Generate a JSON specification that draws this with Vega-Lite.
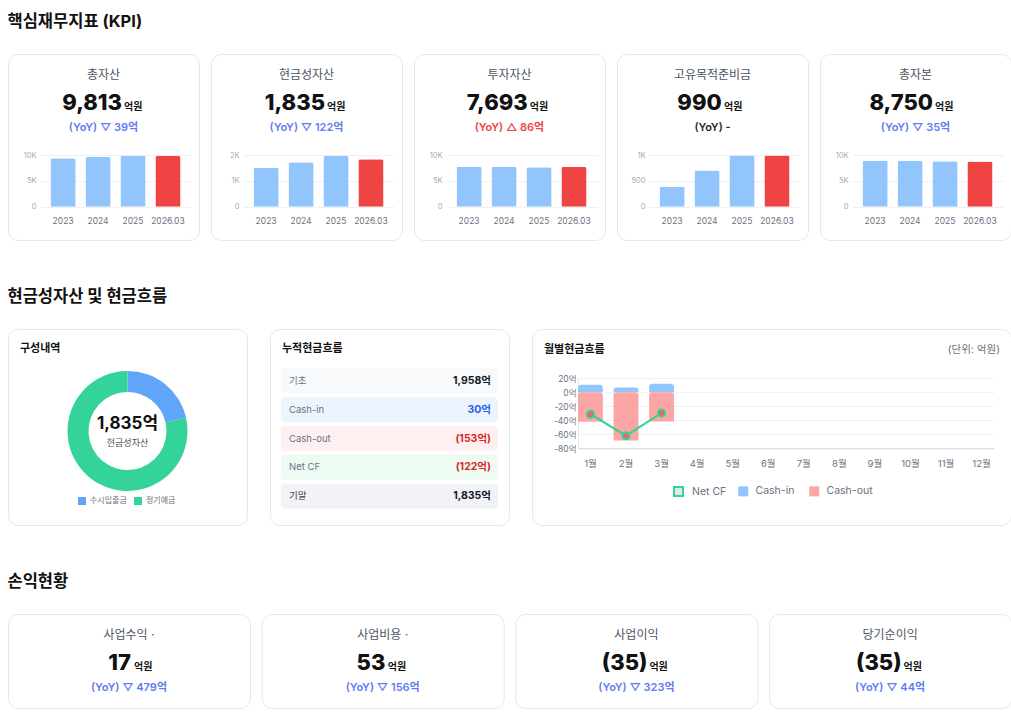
{
  "$schema": "https://vega.github.io/schema/vega-lite/v6.json",
  "background": "#ffffff",
  "padding": {"left": 7, "top": 13, "right": 0, "bottom": 0},
  "config": {
    "font": "Inter, Noto Sans CJK KR",
    "view": {"stroke": "#e5e7eb", "strokeWidth": 1, "cornerRadius": 10, "fill": "#ffffff"},
    "axis": {"domain": false, "ticks": false, "tickSize": 0, "title": null, "gridColor": "#eef0f3", "gridWidth": 1, "labelOverlap": false, "labelFont": "Inter, Noto Sans CJK KR"},
    "axisX": {"labelAngle": 0},
    "title": {"anchor": "start", "fontSize": 16.5, "fontWeight": "bold", "color": "#111111", "offset": 23.5, "baseline": "top", "font": "Inter, Noto Sans CJK KR"},
    "legend": {"labelFont": "Inter, Noto Sans CJK KR"}
  },
  "datasets": {
    "kpiBars": [
      {"card": "총자산", "period": "2023", "value": 9362, "kind": "past"},
      {"card": "총자산", "period": "2024", "value": 9613, "kind": "past"},
      {"card": "총자산", "period": "2025", "value": 9852, "kind": "past"},
      {"card": "총자산", "period": "2026.03", "value": 9813, "kind": "current"},
      {"card": "현금성자산", "period": "2023", "value": 1509, "kind": "past"},
      {"card": "현금성자산", "period": "2024", "value": 1717, "kind": "past"},
      {"card": "현금성자산", "period": "2025", "value": 1957, "kind": "past"},
      {"card": "현금성자산", "period": "2026.03", "value": 1835, "kind": "current"},
      {"card": "투자자산", "period": "2023", "value": 7720, "kind": "past"},
      {"card": "투자자산", "period": "2024", "value": 7710, "kind": "past"},
      {"card": "투자자산", "period": "2025", "value": 7607, "kind": "past"},
      {"card": "투자자산", "period": "2026.03", "value": 7693, "kind": "current"},
      {"card": "고유목적준비금", "period": "2023", "value": 383, "kind": "past"},
      {"card": "고유목적준비금", "period": "2024", "value": 700, "kind": "past"},
      {"card": "고유목적준비금", "period": "2025", "value": 990, "kind": "past"},
      {"card": "고유목적준비금", "period": "2026.03", "value": 990, "kind": "current"},
      {"card": "총자본", "period": "2023", "value": 8891, "kind": "past"},
      {"card": "총자본", "period": "2024", "value": 8870, "kind": "past"},
      {"card": "총자본", "period": "2025", "value": 8785, "kind": "past"},
      {"card": "총자본", "period": "2026.03", "value": 8750, "kind": "current"}
    ],
    "kpiHead": [
      {"card": "총자산", "label": "총자산", "value": "9,813", "unit": "억원", "yoy": "(YoY) ▽ 39억", "trend": "down"},
      {"card": "현금성자산", "label": "현금성자산", "value": "1,835", "unit": "억원", "yoy": "(YoY) ▽ 122억", "trend": "down"},
      {"card": "투자자산", "label": "투자자산", "value": "7,693", "unit": "억원", "yoy": "(YoY) △ 86억", "trend": "up"},
      {"card": "고유목적준비금", "label": "고유목적준비금", "value": "990", "unit": "억원", "yoy": "(YoY) -", "trend": "flat"},
      {"card": "총자본", "label": "총자본", "value": "8,750", "unit": "억원", "yoy": "(YoY) ▽ 35억", "trend": "down"}
    ],
    "cashMix": [
      {"name": "수시입출금", "amount": 393},
      {"name": "정기예금", "amount": 1442}
    ],
    "cashCenter": [{"title": "구성내역", "total": "1,835억", "sub": "현금성자산"}],
    "cumFlow": [
      {"row": "기초", "amount": "1,958억"},
      {"row": "Cash-in", "amount": "30억"},
      {"row": "Cash-out", "amount": "(153억)"},
      {"row": "Net CF", "amount": "(122억)"},
      {"row": "기말", "amount": "1,835억"}
    ],
    "cumTitle": [{"title": "누적현금흐름"}],
    "monthly": [
      {"month": "1월", "type": "Cash-in", "value": 10.8},
      {"month": "1월", "type": "Cash-out", "value": -42.1},
      {"month": "1월", "type": "Net CF", "value": -31.3},
      {"month": "2월", "type": "Cash-in", "value": 6.9},
      {"month": "2월", "type": "Cash-out", "value": -68.9},
      {"month": "2월", "type": "Net CF", "value": -62.0},
      {"month": "3월", "type": "Cash-in", "value": 12.2},
      {"month": "3월", "type": "Cash-out", "value": -41.8},
      {"month": "3월", "type": "Net CF", "value": -29.6}
    ],
    "monthlyHead": [{"title": "월별현금흐름", "unitNote": "(단위: 억원)"}],
    "pl": [
      {"card": "사업수익", "label": "사업수익 ·", "value": "17", "unit": "억원", "yoy": "(YoY) ▽ 479억"},
      {"card": "사업비용", "label": "사업비용 ·", "value": "53", "unit": "억원", "yoy": "(YoY) ▽ 156억"},
      {"card": "사업이익", "label": "사업이익", "value": "(35)", "unit": "억원", "yoy": "(YoY) ▽ 323억"},
      {"card": "당기순이익", "label": "당기순이익", "value": "(35)", "unit": "억원", "yoy": "(YoY) ▽ 44억"}
    ]
  },
  "spacing": 47,
  "resolve": {"scale": {"color": "independent", "fill": "independent", "stroke": "independent"}, "legend": {"color": "independent", "fill": "independent", "stroke": "independent"}},
  "vconcat": [
    {
      "title": "핵심재무지표 (KPI)",
      "spacing": 10,
      "resolve": {"scale": {"color": "independent", "fill": "independent", "stroke": "independent"}, "legend": {"color": "independent", "fill": "independent", "stroke": "independent"}},
      "hconcat": [
        {
          "width": 191, "height": 186,
          "layer": [
            {"data": {"name": "kpiBars"}, "transform": [{"filter": "datum.card === '총자산'"}],
             "mark": {"type": "bar", "cornerRadiusTopLeft": 2, "cornerRadiusTopRight": 2},
             "encoding": {
               "x": {"field": "period", "type": "nominal", "sort": null, "scale": {"range": [32, 183], "paddingInner": 0.28, "paddingOuter": 0.3}, "axis": {"offset": -33.3, "labelPadding": 9.5, "labelFontSize": 8.5, "labelColor": "#6b7280", "grid": false}},
               "y": {"field": "value", "type": "quantitative", "scale": {"domain": [0, 10000], "range": [152.7, 101], "nice": false}, "axis": {"values": [0, 5000, 10000], "tickCount": 10, "offset": -32, "labelPadding": 4, "labelFontSize": 7.5, "labelColor": "#a3abb8", "grid": true, "labelExpr": "datum.value >= 1000 ? (datum.value / 1000) + 'K' : datum.label"}},
               "fill": {"field": "kind", "type": "nominal", "scale": {"domain": ["past", "current"], "range": ["#93c5fd", "#ef4444"]}, "legend": null}
             }},
            {"data": {"name": "kpiHead"}, "transform": [{"filter": "datum.card === '총자산'"}],
             "layer": [
               {"mark": {"type": "text", "dy": -72, "fontSize": 12, "color": "#4b5563"}, "encoding": {"text": {"field": "label"}}},
               {"mark": {"type": "text", "align": "right", "baseline": "alphabetic", "dx": 18.5, "dy": -37, "fontSize": 22, "fontWeight": 800, "color": "#111111"}, "encoding": {"text": {"field": "value"}}},
               {"mark": {"type": "text", "align": "left", "baseline": "alphabetic", "dx": 20.5, "dy": -37, "fontSize": 10, "fontWeight": "bold", "color": "#111111"}, "encoding": {"text": {"field": "unit"}}},
               {"mark": {"type": "text", "dy": -19, "fontSize": 11, "fontWeight": 600}, "encoding": {"text": {"field": "yoy"}, "color": {"field": "trend", "type": "nominal", "scale": {"domain": ["down", "up", "flat"], "range": ["#5f7cf4", "#ef4444", "#1f2937"]}, "legend": null}}}
             ]}
          ]
        },
        {
          "width": 191, "height": 186,
          "layer": [
            {"data": {"name": "kpiBars"}, "transform": [{"filter": "datum.card === '현금성자산'"}],
             "mark": {"type": "bar", "cornerRadiusTopLeft": 2, "cornerRadiusTopRight": 2},
             "encoding": {
               "x": {"field": "period", "type": "nominal", "sort": null, "scale": {"range": [32, 183], "paddingInner": 0.28, "paddingOuter": 0.3}, "axis": {"offset": -33.3, "labelPadding": 9.5, "labelFontSize": 8.5, "labelColor": "#6b7280", "grid": false}},
               "y": {"field": "value", "type": "quantitative", "scale": {"domain": [0, 2000], "range": [152.7, 101], "nice": false}, "axis": {"values": [0, 1000, 2000], "tickCount": 10, "offset": -32, "labelPadding": 4, "labelFontSize": 7.5, "labelColor": "#a3abb8", "grid": true, "labelExpr": "datum.value >= 1000 ? (datum.value / 1000) + 'K' : datum.label"}},
               "fill": {"field": "kind", "type": "nominal", "scale": {"domain": ["past", "current"], "range": ["#93c5fd", "#ef4444"]}, "legend": null}
             }},
            {"data": {"name": "kpiHead"}, "transform": [{"filter": "datum.card === '현금성자산'"}],
             "layer": [
               {"mark": {"type": "text", "dy": -72, "fontSize": 12, "color": "#4b5563"}, "encoding": {"text": {"field": "label"}}},
               {"mark": {"type": "text", "align": "right", "baseline": "alphabetic", "dx": 18.5, "dy": -37, "fontSize": 22, "fontWeight": 800, "color": "#111111"}, "encoding": {"text": {"field": "value"}}},
               {"mark": {"type": "text", "align": "left", "baseline": "alphabetic", "dx": 20.5, "dy": -37, "fontSize": 10, "fontWeight": "bold", "color": "#111111"}, "encoding": {"text": {"field": "unit"}}},
               {"mark": {"type": "text", "dy": -19, "fontSize": 11, "fontWeight": 600}, "encoding": {"text": {"field": "yoy"}, "color": {"field": "trend", "type": "nominal", "scale": {"domain": ["down", "up", "flat"], "range": ["#5f7cf4", "#ef4444", "#1f2937"]}, "legend": null}}}
             ]}
          ]
        },
        {
          "width": 191, "height": 186,
          "layer": [
            {"data": {"name": "kpiBars"}, "transform": [{"filter": "datum.card === '투자자산'"}],
             "mark": {"type": "bar", "cornerRadiusTopLeft": 2, "cornerRadiusTopRight": 2},
             "encoding": {
               "x": {"field": "period", "type": "nominal", "sort": null, "scale": {"range": [32, 183], "paddingInner": 0.28, "paddingOuter": 0.3}, "axis": {"offset": -33.3, "labelPadding": 9.5, "labelFontSize": 8.5, "labelColor": "#6b7280", "grid": false}},
               "y": {"field": "value", "type": "quantitative", "scale": {"domain": [0, 10000], "range": [152.7, 101], "nice": false}, "axis": {"values": [0, 5000, 10000], "tickCount": 10, "offset": -32, "labelPadding": 4, "labelFontSize": 7.5, "labelColor": "#a3abb8", "grid": true, "labelExpr": "datum.value >= 1000 ? (datum.value / 1000) + 'K' : datum.label"}},
               "fill": {"field": "kind", "type": "nominal", "scale": {"domain": ["past", "current"], "range": ["#93c5fd", "#ef4444"]}, "legend": null}
             }},
            {"data": {"name": "kpiHead"}, "transform": [{"filter": "datum.card === '투자자산'"}],
             "layer": [
               {"mark": {"type": "text", "dy": -72, "fontSize": 12, "color": "#4b5563"}, "encoding": {"text": {"field": "label"}}},
               {"mark": {"type": "text", "align": "right", "baseline": "alphabetic", "dx": 18.2, "dy": -37, "fontSize": 22, "fontWeight": 800, "color": "#111111"}, "encoding": {"text": {"field": "value"}}},
               {"mark": {"type": "text", "align": "left", "baseline": "alphabetic", "dx": 20.2, "dy": -37, "fontSize": 10, "fontWeight": "bold", "color": "#111111"}, "encoding": {"text": {"field": "unit"}}},
               {"mark": {"type": "text", "dy": -19, "fontSize": 11, "fontWeight": 600}, "encoding": {"text": {"field": "yoy"}, "color": {"field": "trend", "type": "nominal", "scale": {"domain": ["down", "up", "flat"], "range": ["#5f7cf4", "#ef4444", "#1f2937"]}, "legend": null}}}
             ]}
          ]
        },
        {
          "width": 191, "height": 186,
          "layer": [
            {"data": {"name": "kpiBars"}, "transform": [{"filter": "datum.card === '고유목적준비금'"}],
             "mark": {"type": "bar", "cornerRadiusTopLeft": 2, "cornerRadiusTopRight": 2},
             "encoding": {
               "x": {"field": "period", "type": "nominal", "sort": null, "scale": {"range": [32, 183], "paddingInner": 0.28, "paddingOuter": 0.3}, "axis": {"offset": -33.3, "labelPadding": 9.5, "labelFontSize": 8.5, "labelColor": "#6b7280", "grid": false}},
               "y": {"field": "value", "type": "quantitative", "scale": {"domain": [0, 1000], "range": [152.7, 101], "nice": false}, "axis": {"values": [0, 500, 1000], "tickCount": 10, "offset": -32, "labelPadding": 4, "labelFontSize": 7.5, "labelColor": "#a3abb8", "grid": true, "labelExpr": "datum.value >= 1000 ? (datum.value / 1000) + 'K' : datum.label"}},
               "fill": {"field": "kind", "type": "nominal", "scale": {"domain": ["past", "current"], "range": ["#93c5fd", "#ef4444"]}, "legend": null}
             }},
            {"data": {"name": "kpiHead"}, "transform": [{"filter": "datum.card === '고유목적준비금'"}],
             "layer": [
               {"mark": {"type": "text", "dy": -72, "fontSize": 12, "color": "#4b5563"}, "encoding": {"text": {"field": "label"}}},
               {"mark": {"type": "text", "align": "right", "baseline": "alphabetic", "dx": 9.2, "dy": -37, "fontSize": 22, "fontWeight": 800, "color": "#111111"}, "encoding": {"text": {"field": "value"}}},
               {"mark": {"type": "text", "align": "left", "baseline": "alphabetic", "dx": 11.5, "dy": -37, "fontSize": 10, "fontWeight": "bold", "color": "#111111"}, "encoding": {"text": {"field": "unit"}}},
               {"mark": {"type": "text", "dy": -19, "fontSize": 11, "fontWeight": 600}, "encoding": {"text": {"field": "yoy"}, "color": {"field": "trend", "type": "nominal", "scale": {"domain": ["down", "up", "flat"], "range": ["#5f7cf4", "#ef4444", "#1f2937"]}, "legend": null}}}
             ]}
          ]
        },
        {
          "width": 191, "height": 186,
          "layer": [
            {"data": {"name": "kpiBars"}, "transform": [{"filter": "datum.card === '총자본'"}],
             "mark": {"type": "bar", "cornerRadiusTopLeft": 2, "cornerRadiusTopRight": 2},
             "encoding": {
               "x": {"field": "period", "type": "nominal", "sort": null, "scale": {"range": [32, 183], "paddingInner": 0.28, "paddingOuter": 0.3}, "axis": {"offset": -33.3, "labelPadding": 9.5, "labelFontSize": 8.5, "labelColor": "#6b7280", "grid": false}},
               "y": {"field": "value", "type": "quantitative", "scale": {"domain": [0, 10000], "range": [152.7, 101], "nice": false}, "axis": {"values": [0, 5000, 10000], "tickCount": 10, "offset": -32, "labelPadding": 4, "labelFontSize": 7.5, "labelColor": "#a3abb8", "grid": true, "labelExpr": "datum.value >= 1000 ? (datum.value / 1000) + 'K' : datum.label"}},
               "fill": {"field": "kind", "type": "nominal", "scale": {"domain": ["past", "current"], "range": ["#93c5fd", "#ef4444"]}, "legend": null}
             }},
            {"data": {"name": "kpiHead"}, "transform": [{"filter": "datum.card === '총자본'"}],
             "layer": [
               {"mark": {"type": "text", "dy": -72, "fontSize": 12, "color": "#4b5563"}, "encoding": {"text": {"field": "label"}}},
               {"mark": {"type": "text", "align": "right", "baseline": "alphabetic", "dx": 17.5, "dy": -37, "fontSize": 22, "fontWeight": 800, "color": "#111111"}, "encoding": {"text": {"field": "value"}}},
               {"mark": {"type": "text", "align": "left", "baseline": "alphabetic", "dx": 19.5, "dy": -37, "fontSize": 10, "fontWeight": "bold", "color": "#111111"}, "encoding": {"text": {"field": "unit"}}},
               {"mark": {"type": "text", "dy": -19, "fontSize": 11, "fontWeight": 600}, "encoding": {"text": {"field": "yoy"}, "color": {"field": "trend", "type": "nominal", "scale": {"domain": ["down", "up", "flat"], "range": ["#5f7cf4", "#ef4444", "#1f2937"]}, "legend": null}}}
             ]}
          ]
        }
      ]
    },
    {
      "title": "현금성자산 및 현금흐름",
      "spacing": 21,
      "resolve": {"scale": {"color": "independent", "fill": "independent", "stroke": "independent"}, "legend": {"color": "independent", "fill": "independent", "stroke": "independent"}},
      "hconcat": [
        {
          "width": 239, "height": 196,
          "layer": [
            {"data": {"name": "cashMix"},
             "mark": {"type": "arc", "innerRadius": 39, "outerRadius": 60, "yOffset": 4},
             "encoding": {
               "theta": {"field": "amount", "type": "quantitative"},
               "order": {"field": "name", "sort": "ascending"},
               "color": {"field": "name", "type": "nominal", "scale": {"domain": ["수시입출금", "정기예금"], "range": ["#60a5fa", "#34d399"]},
                 "legend": {"orient": "none", "legendX": 70, "legendY": 168, "direction": "horizontal", "title": null, "symbolType": "square", "symbolSize": 64, "symbolStrokeWidth": 0, "labelFontSize": 8, "labelColor": "#6b7280", "labelOffset": 4, "columnPadding": 7, "padding": 0}}
             }},
            {"data": {"name": "cashCenter"},
             "layer": [
               {"mark": {"type": "text", "align": "left", "dy": -78, "fontSize": 11, "fontWeight": "bold", "color": "#111111"}, "encoding": {"x": {"datum": 0, "type": "quantitative", "scale": {"domain": [0, 1], "range": [12, 227]}, "axis": null}, "text": {"field": "title"}}},
               {"mark": {"type": "text", "dy": -2.7, "fontSize": 17, "fontWeight": "bold", "color": "#111111"}, "encoding": {"text": {"field": "total"}}},
               {"mark": {"type": "text", "dy": 16, "fontSize": 9, "color": "#4b5563"}, "encoding": {"text": {"field": "sub"}}}
             ]}
          ]
        },
        {
          "width": 239, "height": 196,
          "layer": [
            {"data": {"name": "cumFlow"},
             "layer": [
               {"mark": {"type": "bar", "cornerRadius": 4},
                "encoding": {
                  "y": {"field": "row", "type": "nominal", "sort": null, "scale": {"domain": ["기초", "Cash-in", "Cash-out", "Net CF", "기말"], "range": [39.3, 179.7], "paddingInner": 0.12, "paddingOuter": 0}, "axis": null},
                  "x": {"datum": 0, "type": "quantitative", "scale": {"domain": [0, 1], "range": [11, 228]}, "axis": null},
                  "x2": {"datum": 1},
                  "fill": {"field": "row", "type": "nominal", "scale": {"domain": ["기초", "Cash-in", "Cash-out", "Net CF", "기말"], "range": ["#f8f9fb", "#eef4fe", "#fef0f0", "#eefbf2", "#f1f3f7"]}, "legend": null}
                }},
               {"mark": {"type": "text", "align": "left", "dx": 8, "fontSize": 9.5},
                "encoding": {
                  "y": {"field": "row", "type": "nominal", "sort": null},
                  "x": {"datum": 0, "type": "quantitative"},
                  "text": {"field": "row"},
                  "color": {"condition": {"test": "datum.row === '기말'", "value": "#374151"}, "value": "#6b7280"}
                }},
               {"mark": {"type": "text", "align": "right", "dx": -7, "fontSize": 10.5, "fontWeight": "bold"},
                "encoding": {
                  "y": {"field": "row", "type": "nominal", "sort": null},
                  "x": {"datum": 1, "type": "quantitative"},
                  "text": {"field": "amount"},
                  "color": {"condition": [{"test": "datum.row === 'Cash-in'", "value": "#2563eb"}, {"test": "datum.row === 'Cash-out' || datum.row === 'Net CF'", "value": "#dc2626"}], "value": "#111827"}
                }}
             ]},
            {"data": {"name": "cumTitle"},
             "mark": {"type": "text", "align": "left", "dx": 1, "dy": -78, "fontSize": 11, "fontWeight": "bold", "color": "#111111"},
             "encoding": {"x": {"datum": 0, "type": "quantitative"}, "text": {"field": "title"}}}
          ]
        },
        {
          "width": 479, "height": 196,
          "resolve": {"scale": {"fill": "independent", "stroke": "independent"}, "legend": {"fill": "independent", "stroke": "independent"}},
          "layer": [
            {"data": {"name": "monthly"},
             "layer": [
               {"transform": [{"filter": "datum.type !== 'Net CF'"}],
                "mark": {"type": "bar", "cornerRadiusEnd": 3},
                "encoding": {
                  "x": {"field": "month", "type": "nominal", "scale": {"domain": ["1월", "2월", "3월", "4월", "5월", "6월", "7월", "8월", "9월", "10월", "11월", "12월"], "range": [46, 462], "paddingInner": 0.3, "paddingOuter": 0}, "axis": {"offset": -76.7, "domain": true, "domainColor": "#d1d5db", "labelPadding": 10, "labelFontSize": 9.5, "labelColor": "#6b7280", "grid": false}},
                  "y": {"field": "value", "type": "quantitative", "stack": null, "scale": {"domain": [-80, 20], "range": [119.3, 49.3], "nice": false}, "axis": {"values": [-80, -60, -40, -20, 0, 20], "tickCount": 12, "labelOverlap": false, "offset": -46, "domain": true, "domainColor": "#e5e7eb", "labelPadding": 2, "labelFontSize": 8.5, "labelColor": "#6b7280", "grid": true, "labelExpr": "datum.value + '억'"}},
                  "fill": {"field": "type", "type": "nominal", "scale": {"domain": ["Cash-in", "Cash-out"], "range": ["#93c5fd", "#fca5a5"]},
                    "legend": {"orient": "none", "legendX": 206, "legendY": 157, "direction": "horizontal", "title": null, "symbolType": "square", "symbolSize": 100, "symbolStrokeWidth": 0, "labelFontSize": 10.5, "labelColor": "#6b7280", "labelOffset": 7, "columnPadding": 14, "padding": 0}}
                }},
               {"transform": [{"filter": "datum.type === 'Net CF'"}],
                "mark": {"type": "line", "strokeWidth": 2},
                "encoding": {
                  "x": {"field": "month", "type": "nominal"},
                  "y": {"field": "value", "type": "quantitative"},
                  "stroke": {"field": "type", "type": "nominal", "scale": {"domain": ["Net CF"], "range": ["#34d399"]},
                    "legend": {"orient": "none", "legendX": 141, "legendY": 157, "direction": "horizontal", "title": null, "symbolType": "square", "symbolSize": 81, "symbolFillColor": "#e5e7eb", "symbolStrokeWidth": 2, "labelFontSize": 10.5, "labelColor": "#6b7280", "labelOffset": 8, "padding": 0}}
                }},
               {"transform": [{"filter": "datum.type === 'Net CF'"}],
                "mark": {"type": "point", "filled": true, "fill": "#ef6464", "stroke": "#34d399", "strokeWidth": 2, "size": 50, "opacity": 1},
                "encoding": {
                  "x": {"field": "month", "type": "nominal"},
                  "y": {"field": "value", "type": "quantitative"}
                }}
             ]},
            {"data": {"name": "monthlyHead"},
             "layer": [
               {"mark": {"type": "text", "align": "left", "dx": -227.5, "dy": -77, "fontSize": 11, "fontWeight": "bold", "color": "#111111"}, "encoding": {"text": {"field": "title"}}},
               {"mark": {"type": "text", "align": "right", "dx": 228.5, "dy": -77, "fontSize": 10.5, "color": "#6b7280"}, "encoding": {"text": {"field": "unitNote"}}}
             ]}
          ]
        }
      ]
    },
    {
      "title": "손익현황",
      "spacing": 9.7,
      "resolve": {"scale": {"color": "independent", "fill": "independent", "stroke": "independent"}, "legend": {"color": "independent", "fill": "independent", "stroke": "independent"}},
      "hconcat": [
        {
          "width": 242, "height": 94,
          "layer": [
            {"data": {"name": "pl"}, "transform": [{"filter": "datum.card === '사업수익'"}],
             "layer": [
               {"mark": {"type": "text", "dy": -26, "fontSize": 12, "color": "#4b5563"}, "encoding": {"x": {"datum": 0.5, "type": "quantitative", "scale": {"domain": [0, 1]}, "axis": null}, "text": {"field": "label"}}},
               {"mark": {"type": "text", "align": "right", "baseline": "alphabetic", "dx": 2, "dy": 9, "fontSize": 22, "fontWeight": 800, "color": "#111111"}, "encoding": {"x": {"datum": 0.5, "type": "quantitative"}, "text": {"field": "value"}}},
               {"mark": {"type": "text", "align": "left", "baseline": "alphabetic", "dx": 5, "dy": 9, "fontSize": 10, "fontWeight": "bold", "color": "#111111"}, "encoding": {"x": {"datum": 0.5, "type": "quantitative"}, "text": {"field": "unit"}}},
               {"mark": {"type": "text", "dy": 27.3, "fontSize": 11, "fontWeight": 600, "color": "#5f7cf4"}, "encoding": {"x": {"datum": 0.5, "type": "quantitative"}, "text": {"field": "yoy"}}}
             ]}
          ]
        },
        {
          "width": 242, "height": 94,
          "layer": [
            {"data": {"name": "pl"}, "transform": [{"filter": "datum.card === '사업비용'"}],
             "layer": [
               {"mark": {"type": "text", "dy": -26, "fontSize": 12, "color": "#4b5563"}, "encoding": {"x": {"datum": 0.5, "type": "quantitative", "scale": {"domain": [0, 1]}, "axis": null}, "text": {"field": "label"}}},
               {"mark": {"type": "text", "align": "right", "baseline": "alphabetic", "dx": 2.7, "dy": 9, "fontSize": 22, "fontWeight": 800, "color": "#111111"}, "encoding": {"x": {"datum": 0.5, "type": "quantitative"}, "text": {"field": "value"}}},
               {"mark": {"type": "text", "align": "left", "baseline": "alphabetic", "dx": 5, "dy": 9, "fontSize": 10, "fontWeight": "bold", "color": "#111111"}, "encoding": {"x": {"datum": 0.5, "type": "quantitative"}, "text": {"field": "unit"}}},
               {"mark": {"type": "text", "dy": 27.3, "fontSize": 11, "fontWeight": 600, "color": "#5f7cf4"}, "encoding": {"x": {"datum": 0.5, "type": "quantitative"}, "text": {"field": "yoy"}}}
             ]}
          ]
        },
        {
          "width": 242, "height": 94,
          "layer": [
            {"data": {"name": "pl"}, "transform": [{"filter": "datum.card === '사업이익'"}],
             "layer": [
               {"mark": {"type": "text", "dy": -26, "fontSize": 12, "color": "#4b5563"}, "encoding": {"x": {"datum": 0.5, "type": "quantitative", "scale": {"domain": [0, 1]}, "axis": null}, "text": {"field": "label"}}},
               {"mark": {"type": "text", "align": "right", "baseline": "alphabetic", "dx": 11, "dy": 9, "fontSize": 22, "fontWeight": 800, "color": "#111111"}, "encoding": {"x": {"datum": 0.5, "type": "quantitative"}, "text": {"field": "value"}}},
               {"mark": {"type": "text", "align": "left", "baseline": "alphabetic", "dx": 13, "dy": 9, "fontSize": 10, "fontWeight": "bold", "color": "#111111"}, "encoding": {"x": {"datum": 0.5, "type": "quantitative"}, "text": {"field": "unit"}}},
               {"mark": {"type": "text", "dy": 27.3, "fontSize": 11, "fontWeight": 600, "color": "#5f7cf4"}, "encoding": {"x": {"datum": 0.5, "type": "quantitative"}, "text": {"field": "yoy"}}}
             ]}
          ]
        },
        {
          "width": 242, "height": 94,
          "layer": [
            {"data": {"name": "pl"}, "transform": [{"filter": "datum.card === '당기순이익'"}],
             "layer": [
               {"mark": {"type": "text", "dy": -26, "fontSize": 12, "color": "#4b5563"}, "encoding": {"x": {"datum": 0.5, "type": "quantitative", "scale": {"domain": [0, 1]}, "axis": null}, "text": {"field": "label"}}},
               {"mark": {"type": "text", "align": "right", "baseline": "alphabetic", "dx": 11.5, "dy": 9, "fontSize": 22, "fontWeight": 800, "color": "#111111"}, "encoding": {"x": {"datum": 0.5, "type": "quantitative"}, "text": {"field": "value"}}},
               {"mark": {"type": "text", "align": "left", "baseline": "alphabetic", "dx": 13.5, "dy": 9, "fontSize": 10, "fontWeight": "bold", "color": "#111111"}, "encoding": {"x": {"datum": 0.5, "type": "quantitative"}, "text": {"field": "unit"}}},
               {"mark": {"type": "text", "dy": 27.3, "fontSize": 11, "fontWeight": 600, "color": "#5f7cf4"}, "encoding": {"x": {"datum": 0.5, "type": "quantitative"}, "text": {"field": "yoy"}}}
             ]}
          ]
        }
      ]
    }
  ]
}
